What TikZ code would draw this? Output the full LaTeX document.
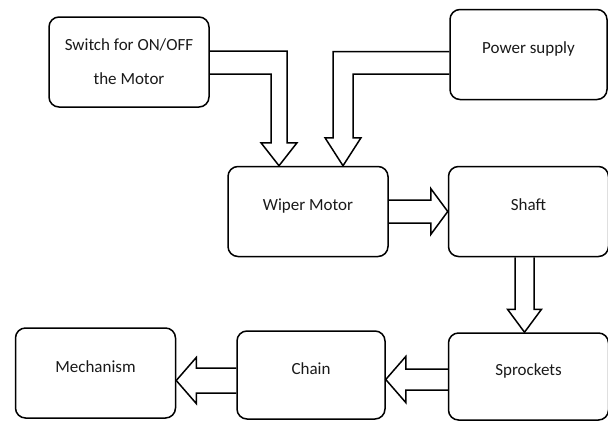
\documentclass[tikz,border=0pt]{standalone}
\usepackage{fontspec}
\setmainfont{Carlito}
\usetikzlibrary{positioning,calc}

\begin{document}
\begin{tikzpicture}[
  x=1pt,y=-1pt,
  boxbase/.style={rectangle,rounded corners=10pt,draw=black,line width=1.5pt,minimum width=160pt,minimum height=90pt,align=center,text=black!90,font=\fontsize{17pt}{34pt}\selectfont},
  part/.style={boxbase,text height=12pt,text depth=14pt},
  blockarrow/.style={draw=black,line width=1.5pt,line join=miter}
]
\useasboundingbox (0,0) rectangle (608,421);
% Top row: inputs to the motor; then the drive train running round to the mechanism.
\node[boxbase] (switch) at (129,62) {Switch for ON/OFF\\the Motor};
\node[part,minimum width=157pt] (power) at (528.5,54.5) {Power supply};
\node[part] (wiper) at (308,211.5) {Wiper Motor};
\node[part,right=59pt of wiper] (shaft) {Shaft};
\node[part,minimum height=87pt,below=75pt of shaft] (sprockets) {Sprockets};
\node[part,minimum width=148pt,minimum height=88pt,left=62pt of sprockets,yshift=1.5pt] (chain) {Chain};
\node[part,left=60pt of chain,yshift=2pt] (mechanism) {Mechanism};
% hollow block arrows
\coordinate (swtip) at ($(wiper.north)+(-29,0)$);
\coordinate (pwtip) at ($(wiper.north)+(35,0)$);
\coordinate (shtip) at ($(sprockets.north)+(-4,0)$);
\coordinate (sptip) at ($(chain.east)+(0,4.5)$);
\coordinate (chtip) at ($(mechanism.east)+(0,7.5)$);
\draw[blockarrow] ($(switch.east)+(0,-11)$) -| ($(swtip)+(8,-23)$) -- ++(10,0) -- (swtip)
  -- ++(-18,-23) -- ++(10,0) |- ($(switch.east)+(0,12)$);
\draw[blockarrow] ($(power.west)+(0,-3)$) -| ($(pwtip)+(-10,-28)$) -- ++(-8,0) -- (pwtip)
  -- ++(18,-28) -- ++(-8,0) |- ($(power.west)+(0,19.5)$);
\draw[blockarrow] ($(wiper.east)+(0,-11.5)$) -- ($(shaft.west)+(-17,-11.5)$) -- ++(0,-11.5) -- (shaft.west)
  -- ++(-17,23) -- ++(0,-11.5) -- ($(wiper.east)+(0,11.5)$);
\draw[blockarrow] ($(shaft.south)+(-13.5,0)$) -- ($(shtip)+(-9.5,-23)$) -- ++(-7.5,0) -- (shtip)
  -- ++(17,-23) -- ++(-7.5,0) -- ($(shaft.south)+(5.5,0)$);
\draw[blockarrow] ($(sprockets.west)+(0,-7.5)$) -- ($(sptip)+(20,-10.5)$) -- ++(0,-12.5) -- (sptip)
  -- ++(20,23) -- ++(0,-12.5) -- ($(sprockets.west)+(0,13.5)$);
\draw[blockarrow] ($(chain.west)+(0,-7)$) -- ($(chtip)+(20,-12.5)$) -- ++(0,-10.5) -- (chtip)
  -- ++(20,23) -- ++(0,-10.5) -- ($(chain.west)+(0,18)$);
\end{tikzpicture}
\end{document}
